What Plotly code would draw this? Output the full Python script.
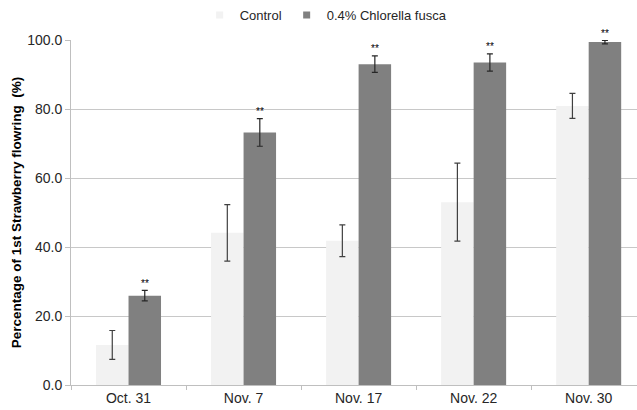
import plotly.graph_objects as go

dates = ["Oct. 31", "Nov. 7", "Nov. 17", "Nov. 22", "Nov. 30"]
control = [11.6, 44.1, 41.8, 53.0, 80.9]
control_err = [4.2, 8.2, 4.6, 11.3, 3.6]
chlorella = [25.9, 73.2, 93.0, 93.5, 99.4]
chlorella_err = [1.5, 4.0, 2.4, 2.5, 0.5]
signif = ["**", "**", "**", "**", "**"]
y_ticks = [0, 20, 40, 60, 80, 100]

series_names = ["Control", "0.4% Chlorella fusca"]
series_colors = ["#F2F2F2", "#808080"]

FONT = "Liberation Sans, Arial, sans-serif"
TXT = "#262626"

fig = go.Figure()
fig.add_trace(go.Bar(
    name=series_names[0], x=dates, y=control, showlegend=False,
    marker=dict(color=series_colors[0], line=dict(width=0)),
    error_y=dict(type="data", array=control_err, color="#404040", thickness=1.2, width=3),
))
fig.add_trace(go.Bar(
    name=series_names[1], x=dates, y=chlorella, showlegend=False,
    marker=dict(color=series_colors[1], line=dict(width=0)),
    error_y=dict(type="data", array=chlorella_err, color="#262626", thickness=1.2, width=3),
))

# small square keys for the legend
for name, color in zip(series_names, series_colors):
    fig.add_trace(go.Scatter(
        name=name, x=[None], y=[None], mode="markers",
        marker=dict(symbol="square", size=7, color=color, line=dict(width=0)),
        showlegend=True,
    ))

# significance marks above the treated bars
for d, v, e, s in zip(dates, chlorella, chlorella_err, signif):
    fig.add_annotation(
        x=d, y=v + e, text=s, showarrow=False, xshift=16.5, yshift=7,
        font=dict(family=FONT, size=10, color="#000000"),
    )

fig.update_layout(
    width=637, height=410,
    margin=dict(l=71, r=0, t=40, b=25),
    paper_bgcolor="white", plot_bgcolor="white",
    barmode="group", bargap=0.435, bargroupgap=0,
    font=dict(family=FONT, size=14, color=TXT),
    legend=dict(
        orientation="h", xref="container", yref="container",
        x=0.512, xanchor="center", y=0.963, yanchor="middle",
        font=dict(family=FONT, size=13, color=TXT),
        itemwidth=30, traceorder="normal", tracegroupgap=0,
    ),
    xaxis=dict(
        range=[-0.5, 4.42], showgrid=False, showline=True,
        linecolor="#BFBFBF", linewidth=1,
        ticks="outside", tickson="boundaries", ticklen=4, tickcolor="#BFBFBF",
        tickfont=dict(family=FONT, size=14, color=TXT),
    ),
    yaxis=dict(
        range=[0, 100], tickvals=y_ticks, tickformat=".1f",
        showgrid=True, gridcolor="#C8C8C8", gridwidth=1.3,
        showline=True, linecolor="#BFBFBF", linewidth=1,
        ticks="outside", ticklen=5, tickcolor="#BFBFBF",
        tickfont=dict(family=FONT, size=14, color=TXT),
        title=dict(
            text="<b>Percentage of 1st Strawberry flowring  (%)</b>",
            font=dict(family=FONT, size=13.5, color="#000000"), standoff=2,
        ),
        zeroline=False,
    ),
)

fig.write_html("out.html")
